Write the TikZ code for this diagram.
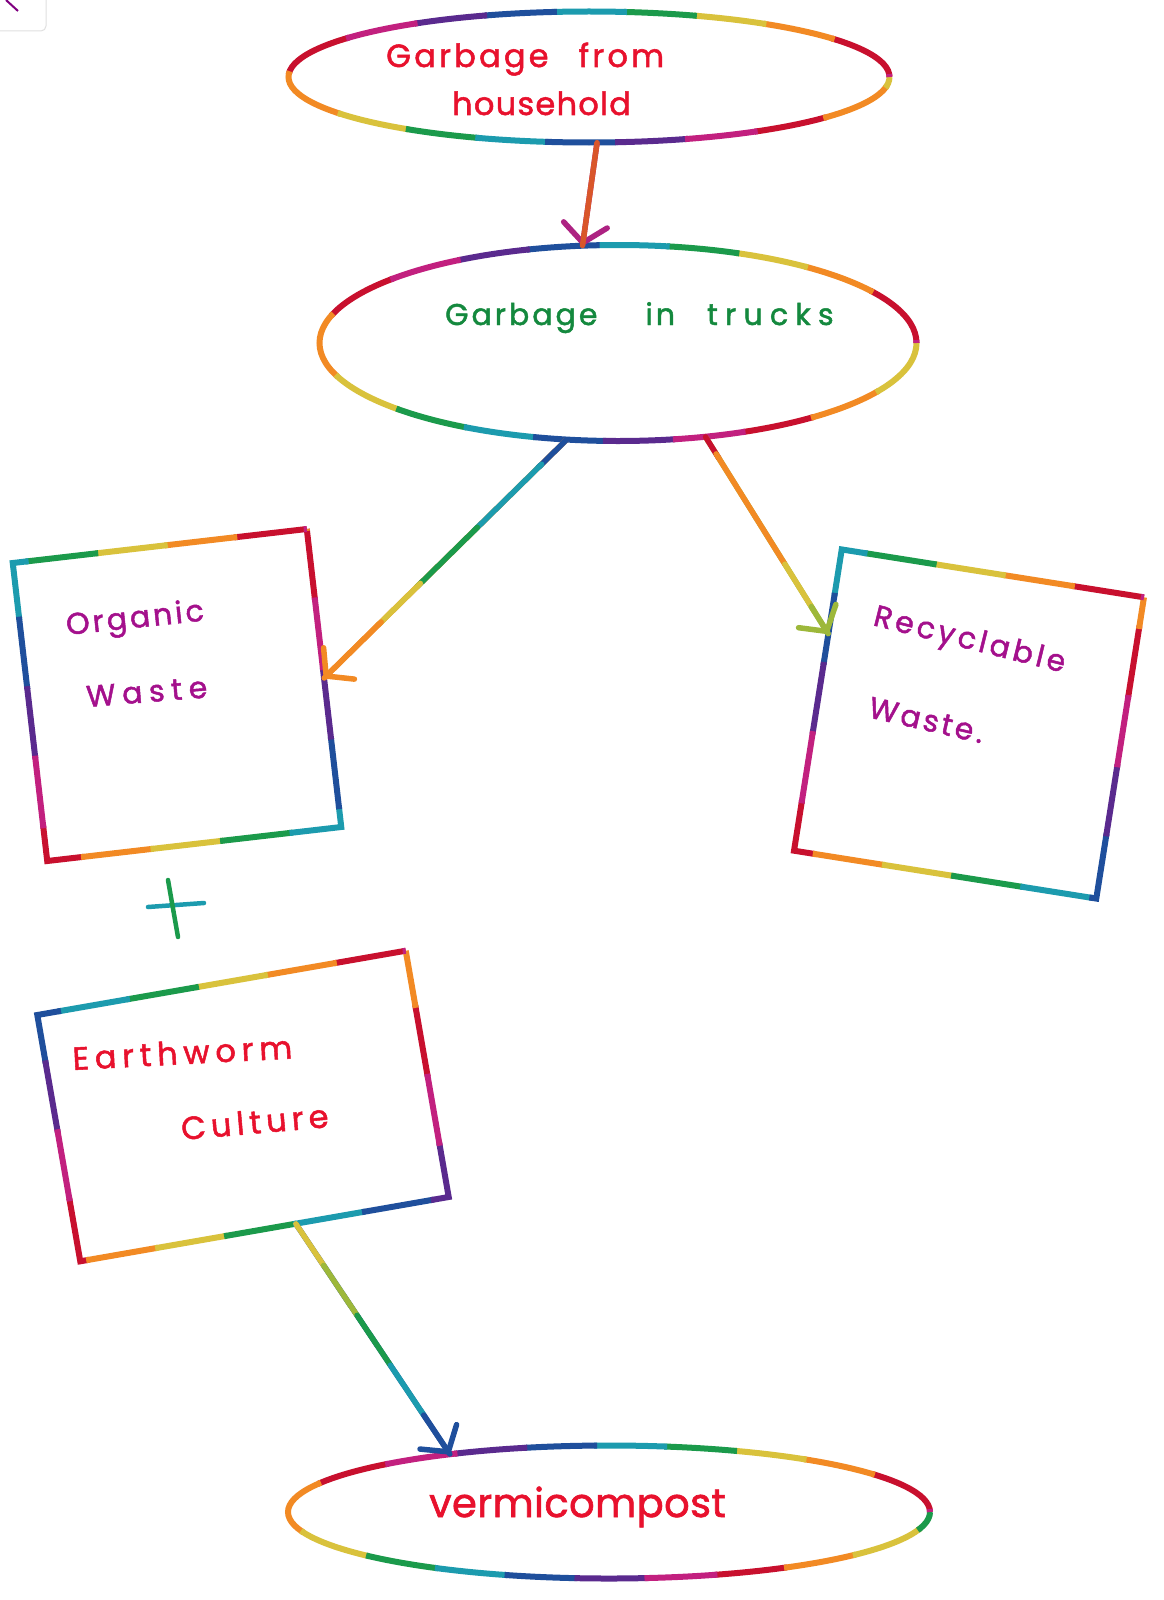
\documentclass[tikz,border=0pt]{standalone}
\usepackage{fontspec}
\newfontfamily\hand{Poppins}[LetterSpace=10,FakeBold=1.6]
\usetikzlibrary{shapes.geometric,arrows.meta,calc}
\definecolor{rbred}{HTML}{C8102E}
\definecolor{rborange}{HTML}{F28A24}
\definecolor{rbyellow}{HTML}{D9C23C}
\definecolor{rbolive}{HTML}{9DB83A}
\definecolor{rbgreen}{HTML}{1B9A4B}
\definecolor{rbteal}{HTML}{1C9BAE}
\definecolor{rbblue}{HTML}{1F4F9C}
\definecolor{rbpurple}{HTML}{5A2A8E}
\definecolor{rbmagenta}{HTML}{C2207F}
\definecolor{txtred}{HTML}{E8112D}
\definecolor{txtgreen}{HTML}{14893E}
\definecolor{txtmag}{HTML}{A4108C}
\definecolor{arrbrown}{HTML}{D9562A}
\tikzset{
  cseg/.style 2 args={postaction={draw=#1,line width=6pt,line cap=butt,dash pattern=on 73pt off 487pt,dash phase=#2}},
  rainbow/.style={cseg={rbred}{0pt},cseg={rborange}{490pt},cseg={rbyellow}{420pt},cseg={rbgreen}{350pt},
    cseg={rbteal}{280pt},cseg={rbblue}{210pt},cseg={rbpurple}{140pt},cseg={rbmagenta}{70pt}},
  oval/.style={ellipse,inner sep=0pt,draw=none},
  box/.style={rectangle,inner sep=0pt,draw=none},
  conn/.style={line width=5.5pt,-{Straight Barb[length=18pt,width=44pt,round]}},
  aseg/.style n args={3}{postaction={-,draw=#1,line width=5.5pt,line cap=round,
    /utils/exec={\pgfmathsetmacro\segphase{#3+3000-#2}},
    dash pattern=on #3pt off 3000pt,dash phase=\segphase pt}},
  txt/.style={font=\hand\fontsize{#1}{#1}\selectfont,inner sep=0pt,anchor=base west},
  txt/.default=30
}
\begin{document}
\begin{tikzpicture}[x=1pt,y=-1pt]
\useasboundingbox (0,0) rectangle (1163,1600);
\fill[white] (0,0) rectangle (1163,1600);
% corner remnant
\draw[black!12,line width=1pt,rounded corners=5pt] (-10,-10) rectangle (46,31);
\draw[violet,line width=2pt] (6,0) -- (18,11);

% shapes
\node[oval,rainbow,minimum width=601pt,minimum height=131pt] (e1) at (589,77) {};
\node[oval,rainbow,minimum width=597pt,minimum height=196pt] (e2) at (618,343) {};
\node[box,rainbow,rotate=6.6,minimum width=296pt,minimum height=300pt] (org) at (177,695) {};
\node[box,rainbow,rotate=-9,minimum width=306pt,minimum height=305pt] (rec) at (969,724) {};
\node[box,rainbow,rotate=9.9,minimum width=374pt,minimum height=250pt] (ew) at (243,1106) {};
\node[oval,rainbow,minimum width=642pt,minimum height=133pt] (e4) at (609,1512) {};

% texts
\node[txt=32,txtred] (t1a) at (386,67) {Garbage\hspace{30pt}from};
\node[txt=32,txtred,font=\hand\fontsize{32}{32}\selectfont\addfontfeature{LetterSpace=4}] (t1b) at (452,115) {household};
\node[txt,txtgreen] (t2) at (445,325) {Garbage\hspace{48pt}in\hspace{32pt}{\addfontfeature{LetterSpace=24}trucks}};
\node[txt,txtmag,rotate=6] (t3a) at (67,635) {Organic};
\node[txt,txtmag,rotate=4.5,font=\hand\fontsize{30}{30}\selectfont\addfontfeature{LetterSpace=22}] (t3b) at (87,707) {Waste};
\node[txt,txtmag,rotate=-14,font=\hand\fontsize{30}{30}\selectfont\addfontfeature{LetterSpace=12}] (t4a) at (872,625) {Recyclable};
\node[txt,txtmag,rotate=-13] (t4b) at (867,717) {Waste\hspace{4pt}.};
\node[txt=32,txtred,rotate=3,font=\hand\fontsize{32}{32}\selectfont\addfontfeature{LetterSpace=18}] (t5a) at (73,1070) {Earthworm};
\node[txt=32,txtred,rotate=5,font=\hand\fontsize{32}{32}\selectfont\addfontfeature{LetterSpace=16}] (t5b) at (182,1140) {Culture};
\node[txt=40,txtred,font=\hand\fontsize{40}{40}\selectfont\addfontfeature{LetterSpace=1}] (t6) at (429,1517) {vermicompost};

% plus sign
\draw[line width=4.5pt,line cap=round,rbteal] (148,907) -- (204,903);
\draw[line width=4.5pt,line cap=round,rbgreen] (168,880) -- (178,937);

% connectors
\draw[conn,draw=rbmagenta!80!rbpurple,aseg={arrbrown}{0}{300}] (e1.-83) -- (e2.110);
\draw[conn,draw=rborange,aseg={rbblue}{0}{40},aseg={rbteal}{35}{95},aseg={rbgreen}{125}{85},
  aseg={rbyellow}{205}{60},aseg={rborange}{260}{140}] (e2.-118) -- (org.east);
\draw[conn,draw=rbolive,aseg={rbred}{0}{25},aseg={rborange}{20}{130},aseg={rbyellow}{150}{55},
  aseg={rbolive}{200}{80}] (e2.-47) -- ($(rec.west)!0.44!(rec.north west)$);
\draw[conn,draw=rbblue,aseg={rbyellow}{0}{50},aseg={rbolive}{50}{60},aseg={rbgreen}{110}{60},
  aseg={rbteal}{170}{60},aseg={rbblue}{230}{80}] ($(ew.south west)!0.585!(ew.south east)$) -- (e4.160);
\end{tikzpicture}
\end{document}
